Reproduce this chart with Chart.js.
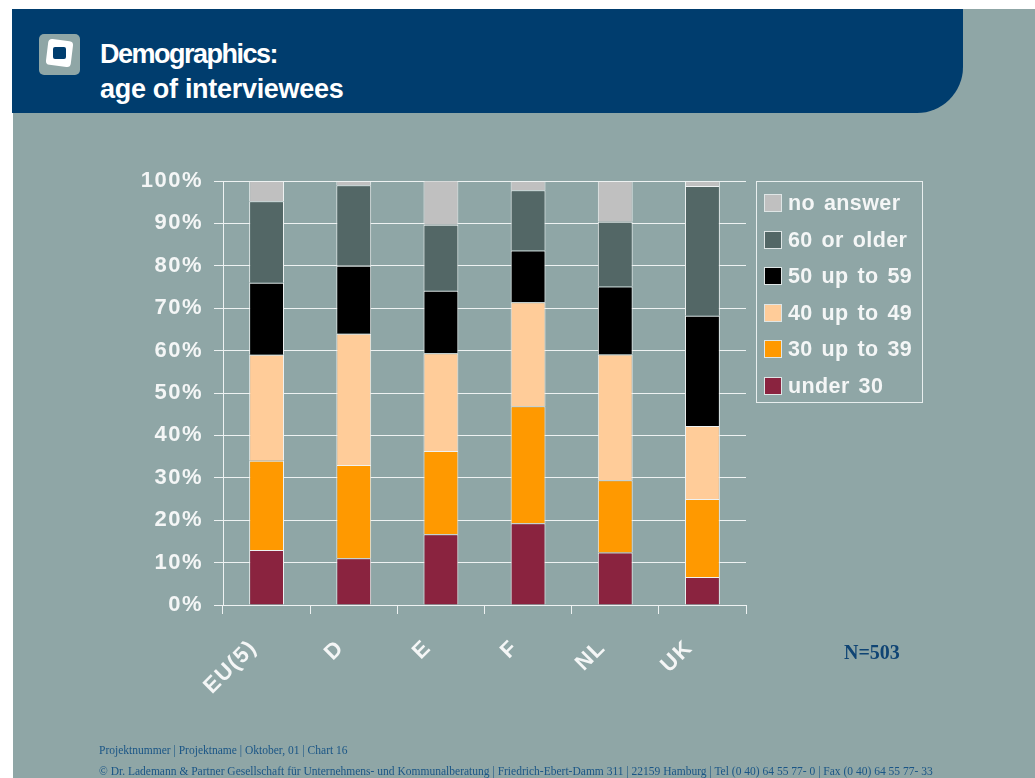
<!DOCTYPE html>
<html>
<head>
<meta charset="utf-8">
<title>Demographics: age of interviewees</title>
<script src="https://cdn.jsdelivr.net/npm/chart.js@4"></script>
<style>
  html, body { margin: 0; padding: 0; background: #fff; overflow: hidden; }
  #page { position: relative; width: 1035px; height: 778px; overflow: hidden; }
  #panel { position: absolute; left: 13px; top: 9px; right: 0; bottom: 0; background: #8fa6a6; }
  #header { position: absolute; left: 12px; top: 9px; width: 951px; height: 104px; background: #003d6e; border-bottom-right-radius: 46px; }
  #logo { position: absolute; left: 39px; top: 34px; width: 41px; height: 41px; background: #8fa6a6; border-radius: 5px; }
  #logo i { position: absolute; left: 8px; top: 6px; width: 25px; height: 26px; background: #fff; border-radius: 4px; transform: rotate(7deg); }
  #logo b { position: absolute; left: 14px; top: 13px; width: 13px; height: 12px; background: #003d6e; border-radius: 2px; }
  .title { position: absolute; left: 100px; color: #fff; font: bold 27px "Liberation Sans", Arial, sans-serif; white-space: nowrap; }
  canvas { position: absolute; left: 0; top: 0; }
  #legend { position: absolute; left: 756px; top: 181px; width: 165px; height: 220px; border: 1px solid #e8eeee; box-sizing: content-box; }
  .item { position: absolute; left: 7px; height: 24px; white-space: nowrap; color: #f4f6f6; font: bold 21.5px/24px "Liberation Sans", Arial, sans-serif; letter-spacing: 0.4px; word-spacing: 2.5px; }
  .item span { position: absolute; left: 0; top: 3px; width: 16px; height: 16px; border: 1px solid #dfe6e6; }
  .item em { font-style: normal; position: absolute; left: 24px; top: 0; }
  #n { position: absolute; left: 844px; top: 641px; color: #0f4474; font: bold 20px "Liberation Serif", serif; }
  .foot { position: absolute; left: 99px; color: #1a5586; font: 11.52px "Liberation Serif", serif; white-space: nowrap; }
</style>
</head>
<body>
<div id="page">
  <div id="panel"></div>
  <div id="header"></div>
  <div id="logo"><i></i><b></b></div>
  <div class="title" style="top:39px;letter-spacing:-1.5px">Demographics:</div>
  <div class="title" style="top:74px;letter-spacing:-0.3px">age of interviewees</div>
  <canvas id="ageChart" width="1035" height="778"></canvas>
  <div id="legend"></div>
  <div id="n">N=503</div>
  <div class="foot" style="top:744px">Projektnummer | Projektname | Oktober, 01 | Chart 16</div>
  <div class="foot" style="top:765px">© Dr. Lademann &amp; Partner Gesellschaft für Unternehmens- und Kommunalberatung | Friedrich-Ebert-Damm 311 | 22159 Hamburg | Tel (0 40) 64 55 77- 0 | Fax (0 40) 64 55 77- 33</div>
</div>
<script>
// AGE GROUPS PER COUNTRY
const countries = ["EU(5)", "D", "E", "F", "NL", "UK"];
const yTicks = [0, 10, 20, 30, 40, 50, 60, 70, 80, 90, 100];

const under30 = [13, 11, 16.7, 19.3, 12.4, 6.6];
const from30to39 = [21, 22, 19.6, 27.6, 17, 18.4];
const from40to49 = [25, 31, 23.1, 24.5, 29.7, 17.2];
const from50to59 = [17, 16, 14.7, 12.2, 16, 26];
const over60 = [19.2, 19, 15.6, 14.2, 15.3, 30.6];
const noAnswer = [4.8, 1, 10.4, 2.2, 9.6, 1.2];

const seriesNames = ["under 30", "30 up to 39", "40 up to 49", "50 up to 59", "60 or older", "no answer"];
const seriesValues = [under30, from30to39, from40to49, from50to59, over60, noAnswer];
const seriesColors = ["#8a233f", "#ff9900", "#ffcc99", "#000000", "#536766", "#c0c0c0"];

const white = "#eef2f2";

const datasets = seriesNames.map((name, i) => ({
  label: name,
  data: seriesValues[i],
  backgroundColor: seriesColors[i],
  borderColor: white,
  borderWidth: 1,
  categoryPercentage: 0.4,
  barPercentage: 1
}));

// chart.js has no letter spacing option, the labels in the picture are spaced out
const spacedText = {
  id: "spacedText",
  beforeDraw(chart) {
    chart.ctx.letterSpacing = "1.5px";
  }
};

new Chart(document.getElementById("ageChart"), {
  type: "bar",
  data: { labels: countries, datasets },
  plugins: [spacedText],
  options: {
    responsive: false,
    animation: false,
    layout: { padding: { top: 181, right: 289, bottom: 73, left: 0 } },
    plugins: { legend: { display: false }, tooltip: { enabled: false } },
    scales: {
      x: {
        stacked: true,
        afterFit(scale) { scale.height = 100; },
        grid: { drawOnChartArea: false, color: white, tickLength: 9 },
        border: { color: white },
        ticks: {
          color: "#f4f6f6",
          font: { family: "Liberation Sans", size: 22, weight: "bold" },
          minRotation: 45,
          maxRotation: 45,
          padding: 21,
          labelOffset: -13
        }
      },
      y: {
        stacked: true,
        min: 0,
        max: 100,
        afterFit(scale) { scale.width = 223; },
        afterBuildTicks(scale) { scale.ticks = yTicks.map(v => ({ value: v })); },
        grid: { color: white, tickLength: 9 },
        border: { color: white },
        ticks: {
          color: "#f4f6f6",
          font: { family: "Liberation Sans", size: 22, weight: "bold" },
          padding: 11,
          callback: v => v + "%"
        }
      }
    }
  }
});

// LEGEND, top entry is the top of the stack
const legend = document.getElementById("legend");
seriesNames.slice().reverse().forEach((name, i) => {
  const item = document.createElement("div");
  item.className = "item";
  item.style.top = (9 + i * 36.6) + "px";
  const box = document.createElement("span");
  box.style.background = seriesColors[seriesNames.length - 1 - i];
  const text = document.createElement("em");
  text.textContent = name;
  item.append(box, text);
  legend.append(item);
});
</script>
</body>
</html>
